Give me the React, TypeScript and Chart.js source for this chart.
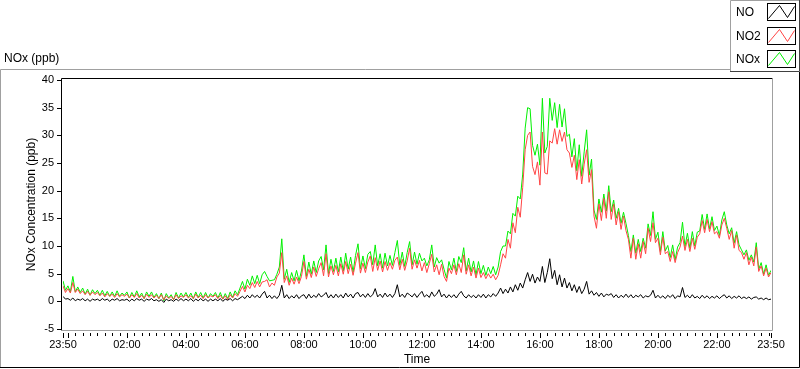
import { useEffect, useRef } from 'react';
import { Chart, registerables } from 'chart.js';

Chart.register(...registerables);

// ---- data (5-minute samples, starting 23:50, ending 23:50 next day) ----
const START_CLOCK = '23:50';
const STEP_MIN = 5;

const NO_PPB = [
  0.9, 0.4,
  0.5, 0.2, 0.6, 0.1, 0.4, 0.2, 0.5, 0.1, 0.4, 0.0, 0.4, 0.2,
  0.4, 0.1, 0.5, 0.2, 0.4, 0.0, 0.4, 0.2, 0.5, 0.1, 0.3, 0.2,
  0.4, 0.0, 0.4, 0.1, 0.5, 0.2, 0.4, 0.0, 0.4, 0.2, 0.5, 0.1,
  0.3, 0.0, 0.3, -0.2, 0.4, 0.1, 0.3, 0.0, 0.4, 0.1, 0.5, 0.1,
  0.4, 0.1, 0.5, 0.0, 0.4, 0.1, 0.5, 0.1, 0.4, 0.0, 0.4, 0.1,
  0.4, 0.1, 0.5, 0.0, 0.4, 0.2, 0.5, 0.1, 0.5, 0.3, 0.6, 0.9,
  0.5, 1.1, 0.6, 1.2, 0.7, 1.1, 0.6, 1.3, 1.8, 0.6, 1.1, 0.5,
  1.0, 0.5, 1.1, 2.9, 0.6, 1.2, 0.5, 1.0, 0.6, 1.2, 0.5, 1.0,
  1.2, 0.5, 1.3, 0.6, 1.1, 0.7, 1.4, 0.8, 1.1, 1.6, 0.6, 1.2,
  0.6, 1.3, 0.7, 1.2, 0.6, 1.5, 0.8, 1.3, 0.6, 1.4, 1.6, 0.8,
  1.3, 0.7, 1.4, 0.8, 1.2, 2.3, 0.8, 1.3, 0.7, 1.5, 0.8, 1.3,
  0.7, 1.4, 3.0, 0.8, 1.3, 0.7, 1.5, 1.2, 0.8, 1.4, 0.7, 1.3,
  1.8, 0.8, 1.2, 0.7, 1.7, 0.9, 1.3, 2.1, 0.8, 1.3, 0.6, 1.2,
  0.7, 1.2, 0.6, 1.3, 1.8, 1.0, 0.6, 1.2, 0.7, 1.1, 0.6, 1.2,
  0.7, 1.3, 0.6, 1.2, 0.8, 1.4, 0.9, 1.5, 2.4, 1.4, 2.2, 1.5,
  2.6, 1.7, 3.0, 2.0, 3.3, 2.4, 3.9, 5.2, 3.6, 4.9, 3.3, 4.4,
  3.6, 6.3, 3.4, 5.2, 7.7, 4.1, 5.6, 3.0, 4.8, 2.6, 4.2, 2.4,
  3.4, 1.9, 3.0, 1.6, 2.7, 1.4, 2.2, 3.6, 1.3, 1.9, 1.1, 1.6,
  0.9, 1.5, 0.8, 1.3, 1.1, 1.4, 0.7, 1.2, 0.6, 1.1, 0.7, 1.3,
  0.7, 1.2, 0.6, 1.1, 0.8, 1.2, 0.6, 1.0, 0.8, 1.1, 2.0, 0.6,
  1.1, 0.6, 1.0, 0.5, 1.1, 0.7, 1.2, 0.5, 1.0, 0.8, 2.5, 0.7,
  1.1, 0.6, 1.2, 0.6, 0.9, 0.5, 1.1, 0.6, 1.0, 0.5, 0.9, 0.6,
  1.0, 0.5, 0.9, 1.2, 0.6, 1.0, 0.5, 0.9, 0.6, 1.0, 0.5, 0.8,
  0.5, 0.8, 0.4, 0.7, 0.8, 0.4, 0.6, 0.3, 0.6, 0.3, 0.4,
];

const NO2_PPB = [
  2.8, 1.6,
  2.3, 1.5, 3.4, 1.6, 2.2, 1.4, 1.9, 1.2, 1.8, 1.1, 1.7, 1.2,
  1.6, 1.0, 1.5, 0.8, 1.4, 0.9, 1.3, 0.7, 1.4, 0.8, 1.2, 0.9,
  1.3, 0.6, 1.2, 0.7, 1.4, 0.6, 1.1, 0.5, 1.3, 0.7, 1.2, 0.6,
  1.1, 0.5, 1.2, 0.3, 1.0, 0.5, 0.9, 0.3, 1.2, 0.5, 1.0, 0.7,
  1.2, 0.6, 1.0, 0.5, 1.3, 0.6, 1.1, 0.5, 1.2, 0.6, 1.0, 0.8,
  1.2, 0.5, 1.1, 0.4, 1.0, 0.3, 1.2, 0.6, 1.4, 0.9, 1.8, 2.7,
  1.7, 2.9, 2.3, 3.4, 2.5, 3.6, 2.6, 3.5, 3.6, 3.9, 2.6, 3.3,
  2.9, 4.4, 5.1, 8.8, 3.4, 4.6, 2.9, 4.2, 3.1, 4.4, 3.2, 4.5,
  7.2, 4.0, 5.8, 4.3, 6.2, 4.5, 5.9, 7.0, 4.6, 8.6, 4.4, 6.4,
  4.8, 6.5, 4.6, 6.8, 4.9, 7.2, 5.0, 6.7, 4.7, 6.9, 8.8, 5.1,
  6.9, 5.2, 7.1, 8.2, 5.4, 7.9, 5.6, 7.3, 5.3, 7.2, 5.6, 7.0,
  5.8, 7.4, 8.0, 5.7, 7.6, 5.6, 7.3, 9.6, 5.8, 7.5, 6.0, 7.4,
  5.5, 7.0, 5.2, 6.8, 8.5, 5.3, 6.6, 4.8, 6.7, 4.5, 3.6, 6.0,
  5.0, 6.6, 4.8, 6.8, 5.2, 8.4, 4.9, 6.6, 4.6, 6.2, 4.2, 6.0,
  4.3, 5.2, 4.1, 5.0, 4.2, 4.9, 3.9, 4.7, 6.6, 8.6, 7.8, 11.2,
  9.6, 14.2, 12.4, 17.0, 15.2, 20.6, 27.4, 30.0, 30.6, 24.4, 22.9, 25.2,
  21.0, 30.6, 23.2, 23.0, 29.0, 28.6, 31.2, 28.4, 31.0, 28.9, 30.6, 27.4,
  26.8, 24.2, 26.4, 22.0, 25.6, 21.2, 24.8, 27.4, 21.5, 23.8, 15.4, 13.2,
  17.6, 14.6, 18.6, 15.0, 19.8, 14.8, 17.6, 13.8, 16.2, 13.0, 15.4, 12.8,
  11.2, 7.8, 11.4, 7.6, 10.4, 7.8, 10.8, 8.6, 13.2, 10.8, 14.2, 10.6,
  11.4, 8.4, 11.6, 8.6, 9.0, 7.2, 9.0, 7.0, 8.8, 9.8, 11.8, 9.2,
  11.2, 9.0, 11.4, 9.4, 11.6, 12.2, 14.6, 12.4, 14.8, 12.6, 14.4, 12.2,
  12.6, 11.4, 13.8, 15.0, 13.2, 11.2, 12.8, 9.6, 12.0, 9.2, 8.8, 7.6,
  8.8, 6.6, 8.0, 6.4, 9.8, 5.4, 6.4, 4.6, 6.0, 4.4, 5.2,
];

const NOX_PPB = [
  3.7, 2.0,
  2.8, 1.7, 4.5, 1.7, 2.6, 1.6, 2.4, 1.3, 2.2, 1.1, 2.1, 1.4,
  2.0, 1.1, 2.0, 1.0, 1.8, 0.9, 1.7, 0.9, 1.9, 0.9, 1.5, 1.1,
  1.7, 0.6, 1.6, 0.8, 1.9, 0.8, 1.5, 0.5, 1.7, 0.9, 1.7, 0.7,
  1.4, 0.5, 1.5, 0.1, 1.4, 0.6, 1.2, 0.3, 1.6, 0.6, 1.5, 0.8,
  1.6, 0.7, 1.5, 0.5, 1.7, 0.7, 1.6, 0.6, 1.6, 0.6, 1.4, 0.9,
  1.6, 0.6, 1.6, 0.4, 1.4, 0.5, 1.7, 0.7, 1.9, 1.2, 2.4, 3.6,
  2.2, 4.0, 2.9, 4.6, 3.2, 4.7, 3.2, 4.8, 5.4, 4.5, 3.7, 3.8,
  3.9, 4.9, 6.2, 11.3, 4.0, 5.8, 3.4, 5.2, 3.7, 5.6, 3.7, 5.5,
  8.4, 4.5, 7.1, 4.9, 7.3, 5.2, 7.3, 8.1, 5.7, 10.2, 5.0, 7.6,
  5.4, 7.8, 5.3, 8.0, 5.5, 8.7, 5.8, 8.0, 5.3, 8.3, 10.4, 5.9,
  8.2, 5.9, 8.5, 9.0, 6.6, 10.2, 6.4, 8.6, 6.0, 8.7, 6.4, 8.3,
  6.5, 8.8, 11.0, 6.5, 8.9, 6.3, 8.8, 10.8, 6.6, 8.9, 6.7, 8.7,
  7.3, 7.8, 6.4, 7.5, 10.2, 6.2, 7.9, 6.9, 7.5, 5.8, 4.2, 7.2,
  5.7, 7.8, 5.4, 8.1, 7.0, 9.7, 5.5, 7.8, 5.3, 7.3, 4.8, 7.2,
  5.0, 6.5, 4.7, 6.2, 5.0, 6.3, 4.8, 6.2, 9.0, 10.0, 10.0, 12.7,
  12.2, 15.9, 15.4, 19.0, 18.5, 23.0, 31.3, 35.0, 34.8, 28.2, 26.4, 28.4,
  24.6, 36.7, 26.8, 28.0, 36.7, 32.7, 35.9, 31.4, 35.6, 31.5, 34.8, 29.8,
  30.2, 26.1, 29.4, 23.6, 28.3, 22.6, 27.0, 31.0, 22.8, 25.7, 16.5, 14.8,
  18.5, 16.1, 19.4, 16.3, 20.9, 16.2, 18.3, 15.0, 16.8, 14.1, 16.1, 14.1,
  11.9, 9.0, 12.0, 8.7, 11.2, 9.0, 11.4, 9.6, 14.0, 11.9, 16.2, 11.2,
  12.5, 9.0, 12.6, 9.1, 10.1, 7.9, 10.2, 7.5, 9.8, 10.6, 14.3, 9.9,
  12.3, 9.6, 12.6, 10.0, 12.5, 12.7, 15.7, 13.0, 15.8, 13.1, 15.3, 12.8,
  13.6, 11.9, 14.7, 16.2, 13.8, 12.2, 13.3, 10.5, 12.6, 10.2, 9.3, 8.4,
  9.3, 7.4, 8.4, 7.1, 10.6, 5.8, 7.0, 4.9, 6.6, 4.7, 5.6,
];

const X_TICK_LABELS = ['23:50', '02:00', '04:00', '06:00', '08:00', '10:00', '12:00', '14:00', '16:00', '18:00', '20:00', '22:00', '23:50'];
const Y_MIN = -5;
const Y_MAX = 40;
const Y_STEP = 5;

const SERIES = [
  { label: 'NO', data: NO_PPB, color: '#000000' },
  { label: 'NO2', data: NO2_PPB, color: '#ff4444' },
  { label: 'NOx', data: NOX_PPB, color: '#00f000' },
];

const FONT = 'Liberation Sans';
const SPAN_MIN = 1440;

function clockToMin(s: string) {
  const [h, m] = s.split(':').map(Number);
  return h * 60 + m;
}
const START = clockToMin(START_CLOCK);
const X_TICK_POS = X_TICK_LABELS.map((l, i) =>
  i === X_TICK_LABELS.length - 1 ? SPAN_MIN : (clockToMin(l) - START + 1440) % 1440
);

const framePlugin = {
  id: 'labviewFrame',
  afterDraw(chart: any) {
    const ctx = chart.ctx as CanvasRenderingContext2D;
    const xs = chart.scales.x;
    const ys = chart.scales.y;
    const { left, top, right, bottom } = chart.chartArea;
    ctx.save();
    ctx.lineWidth = 1;

    // outer frame
    ctx.strokeStyle = '#a0a0a0';
    ctx.beginPath();
    ctx.moveTo(0.5, 368);
    ctx.lineTo(0.5, 69.5);
    ctx.lineTo(730, 69.5);
    ctx.stroke();
    ctx.strokeStyle = '#000000';
    ctx.beginPath();
    ctx.moveTo(0, 367.5);
    ctx.lineTo(799.5, 367.5);
    ctx.lineTo(799.5, 69);
    ctx.stroke();

    // plot border (sunken)
    const bl = Math.round(left) - 1.5;
    const bt = Math.round(top) - 1.5;
    const br = Math.round(right) + 1.5;
    const bb = Math.round(bottom) + 1.5;
    ctx.strokeStyle = '#000000';
    ctx.beginPath();
    ctx.moveTo(bl, bb);
    ctx.lineTo(bl, bt);
    ctx.lineTo(br, bt);
    ctx.stroke();
    ctx.strokeStyle = '#a0a0a0';
    ctx.beginPath();
    ctx.moveTo(br, bt);
    ctx.lineTo(br, bb);
    ctx.lineTo(bl, bb);
    ctx.stroke();

    // y ticks
    ctx.fillStyle = '#000000';
    for (let v = Y_MIN; v <= Y_MAX; v += Y_STEP) {
      const py = Math.round(ys.getPixelForValue(v));
      ctx.fillRect(bl - 4.5, py, 4, 1);
    }

    // x ticks: majors (labelled + midnight), minors every 15 min
    const majors = new Set<number>([...X_TICK_POS]);
    const midnight = (1440 - START) % 1440;
    majors.add(midnight);
    const ty = Math.round(bb) + 2;
    for (let m = midnight; m <= SPAN_MIN; m += 15) {
      if (majors.has(m)) continue;
      const px = Math.round(xs.getPixelForValue(m));
      ctx.fillRect(px, ty, 1, 3);
    }
    majors.forEach((m) => {
      const px = Math.round(xs.getPixelForValue(m));
      ctx.fillRect(px, ty, 1, 5);
    });

    // top-left label
    ctx.font = `12px "${FONT}"`;
    ctx.textBaseline = 'middle';
    ctx.textAlign = 'left';
    ctx.fillStyle = '#000000';
    ctx.fillText('NOx (ppb)', 4, 59);

    // legend box
    ctx.fillStyle = '#ffffff';
    ctx.fillRect(730, 0, 70, 72);
    ctx.strokeStyle = '#a0a0a0';
    ctx.beginPath();
    ctx.moveTo(730.5, 72);
    ctx.lineTo(730.5, 0.5);
    ctx.lineTo(799, 0.5);
    ctx.stroke();
    ctx.strokeStyle = '#404040';
    ctx.beginPath();
    ctx.moveTo(730, 71.5);
    ctx.lineTo(799.5, 71.5);
    ctx.lineTo(799.5, 0);
    ctx.stroke();

    chart.data.datasets.forEach((ds: any, i: number) => {
      const rowTop = 3 + i * 23.5;
      const sy = Math.round(rowTop);
      ctx.fillStyle = '#000000';
      ctx.fillText(ds.label, 736, sy + 10);
      ctx.strokeStyle = '#000000';
      ctx.strokeRect(767.5, sy + 0.5, 28, 17);
      ctx.strokeStyle = ds.borderColor;
      ctx.beginPath();
      ctx.moveTo(768.5, sy + 15.5);
      ctx.lineTo(779.5, sy + 2.5);
      ctx.lineTo(787.5, sy + 14.5);
      ctx.lineTo(794.5, sy + 3.5);
      ctx.stroke();
    });
    ctx.restore();
  },
};

export default function App() {
  const ref = useRef<HTMLCanvasElement | null>(null);
  useEffect(() => {
    document.body.style.margin = '0';
    document.body.style.background = '#ffffff';
    if (!ref.current) return;
    Chart.defaults.font.family = FONT;
    const chart = new Chart(ref.current, {
      type: 'line',
      data: {
        datasets: SERIES.map((s) => ({
          label: s.label,
          data: s.data.map((v, i) => ({ x: i * STEP_MIN, y: v })),
          borderColor: s.color,
          backgroundColor: s.color,
          borderWidth: 1,
          pointRadius: 0,
          tension: 0,
          fill: false,
        })),
      },
      options: {
        responsive: false,
        animation: false,
        events: [],
        layout: { padding: { left: 0, top: 80, right: 29, bottom: 0 } },
        plugins: { legend: { display: false }, tooltip: { enabled: false } },
        scales: {
          x: {
            type: 'linear',
            min: 0,
            max: SPAN_MIN,
            afterBuildTicks: (axis: any) => {
              axis.ticks = X_TICK_POS.map((v) => ({ value: v }));
            },
            afterFit: (axis: any) => {
              axis.height = 40;
            },
            ticks: {
              autoSkip: false,
              maxRotation: 0,
              padding: 9,
              color: '#000000',
              font: { size: 11, family: FONT },
              callback: (_v: any, i: number) => X_TICK_LABELS[i],
            },
            grid: { display: false, drawTicks: false },
            border: { display: false },
            title: {
              display: true,
              text: 'Time',
              color: '#000000',
              font: { size: 12, family: FONT },
              padding: { top: 0, bottom: 2 },
            },
          },
          y: {
            min: Y_MIN,
            max: Y_MAX,
            afterFit: (axis: any) => {
              axis.width = 63;
            },
            ticks: {
              stepSize: Y_STEP,
              padding: 9,
              color: '#000000',
              font: { size: 11, family: FONT },
            },
            grid: { display: false, drawTicks: false },
            border: { display: false },
            title: {
              display: true,
              text: 'NOx Concentration (ppb)',
              color: '#000000',
              font: { size: 12, family: FONT },
              padding: { top: 24, bottom: 0 },
            },
          },
        },
      },
      plugins: [framePlugin],
    });
    return () => chart.destroy();
  }, []);
  return <canvas ref={ref} width={800} height={369} style={{ display: 'block' }} />;
}
